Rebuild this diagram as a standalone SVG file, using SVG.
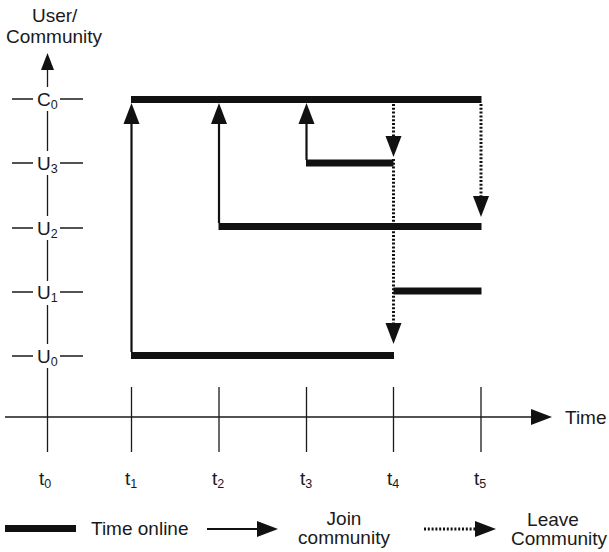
<svg xmlns="http://www.w3.org/2000/svg" width="609" height="552" viewBox="0 0 609 552">
  <style>
    text { font-family: "Liberation Sans", Arial, sans-serif; font-size: 19px; fill: #1a1a1a; }
    .sub { font-size: 12.5px; }
    .axis { stroke: #1a1a1a; stroke-width: 1.3; fill: none; }
    .bar { stroke: #111; stroke-width: 7; fill: none; }
    .join { stroke: #111; stroke-width: 2.2; fill: none; }
    .leave { stroke: #111; stroke-width: 3; fill: none; stroke-dasharray: 2 1.8; }
    .head { fill: #111; }
  </style>
  <defs>
    <!-- filled triangular arrowhead pointing along +x; rotated per use -->
    <polygon id="ah" points="0,0 -21,-8 -21,8" class="head"/>
    <polygon id="ahs" points="0,0 -17,-6.5 -17,6.5" class="head"/>
  </defs>

  <!-- axes -->
  <g id="axes">
    <text x="32" y="22">User/</text>
    <text x="6" y="43">Community</text>
    <!-- vertical user/community axis, broken around row labels -->
    <path class="axis" d="M47.5,68 V87 M47.5,111 V151 M47.5,175 V216 M47.5,240 V281 M47.5,305 V344 M47.5,368 V452"/>
    <use href="#ahs" transform="translate(47.5,53) rotate(-90)"/>
    <!-- row ticks -->
    <path class="axis" d="M12,99 H33 M60,99 H83 M12,163 H33 M60,163 H83 M12,228 H33 M60,228 H83 M12,292 H33 M60,292 H83 M12,356 H33 M60,356 H83"/>
    <text x="37" y="106">C<tspan class="sub" dy="3">0</tspan></text>
    <text x="37" y="170">U<tspan class="sub" dy="3">3</tspan></text>
    <text x="37" y="235">U<tspan class="sub" dy="3">2</tspan></text>
    <text x="37" y="299">U<tspan class="sub" dy="3">1</tspan></text>
    <text x="37" y="363">U<tspan class="sub" dy="3">0</tspan></text>

    <!-- time axis -->
    <path class="axis" d="M5,417 H532"/>
    <use href="#ah" transform="translate(552,417)"/>
    <text x="565" y="424">Time</text>
    <path class="axis" d="M131.5,387 V452 M219,387 V452 M306.5,387 V452 M393.5,387 V452 M481,387 V452"/>
    <text x="39" y="485">t<tspan class="sub" dy="3">0</tspan></text>
    <text x="125" y="485">t<tspan class="sub" dy="3">1</tspan></text>
    <text x="212" y="485">t<tspan class="sub" dy="3">2</tspan></text>
    <text x="300" y="485">t<tspan class="sub" dy="3">3</tspan></text>
    <text x="387" y="485">t<tspan class="sub" dy="3">4</tspan></text>
    <text x="474" y="485">t<tspan class="sub" dy="3">5</tspan></text>
  </g>

  <!-- online periods -->
  <g id="online-C0"><path class="bar" d="M131,99.5 H481.5"/></g>
  <g id="online-U3"><path class="bar" d="M306,163 H393.5"/></g>
  <g id="online-U2"><path class="bar" d="M218.5,226.5 H481.5"/></g>
  <g id="online-U1"><path class="bar" d="M393.5,291 H481.5"/></g>
  <g id="online-U0"><path class="bar" d="M131,355.5 H394"/></g>

  <!-- join / leave connectors -->
  <g id="connectors">
    <path class="join" d="M131.5,352 V122"/>
    <use href="#ah" transform="translate(131.5,103) rotate(-90)"/>
    <path class="join" d="M219,223 V122"/>
    <use href="#ah" transform="translate(219,103) rotate(-90)"/>
    <path class="join" d="M306.5,160 V122"/>
    <use href="#ah" transform="translate(306.5,103) rotate(-90)"/>

    <path class="leave" d="M393.5,104 V138"/>
    <use href="#ah" transform="translate(393.5,157) rotate(90)"/>
    <path class="leave" d="M393.5,159 V325"/>
    <use href="#ah" transform="translate(393.5,344) rotate(90)"/>
    <path class="leave" d="M481,104 V198"/>
    <use href="#ah" transform="translate(481,217) rotate(90)"/>
  </g>

  <!-- legend -->
  <g id="legend">
    <path class="bar" d="M5,528.5 H76"/>
    <text x="91" y="535">Time online</text>
    <path class="join" d="M207,529 H258"/>
    <use href="#ah" transform="translate(278,529)"/>
    <text x="344" y="525" text-anchor="middle">Join</text>
    <text x="344" y="544" text-anchor="middle">community</text>
    <path class="leave" d="M424,529 H476"/>
    <use href="#ah" transform="translate(496,529)"/>
    <text x="553" y="526" text-anchor="middle">Leave</text>
    <text x="559" y="545" text-anchor="middle">Community</text>
  </g>
</svg>
